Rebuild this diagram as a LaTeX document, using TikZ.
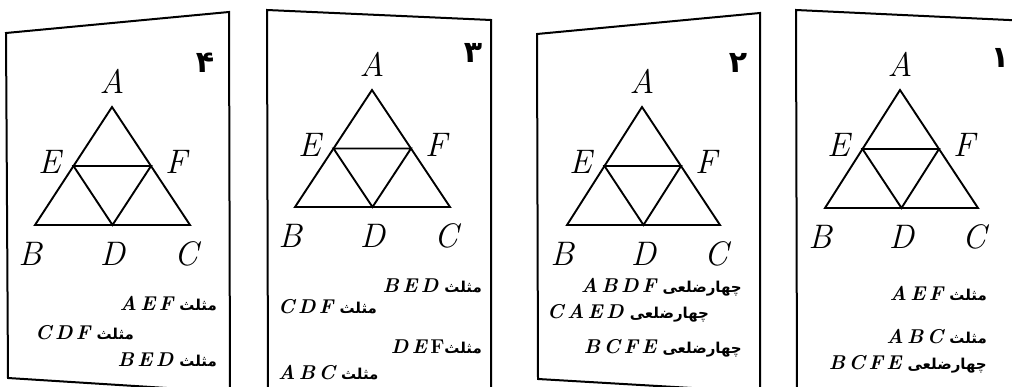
\documentclass[tikz,border=0pt]{standalone}
\usepackage{fontspec}
\usetikzlibrary{calc}
\TeXXeTstate=1
\newfontfamily\arabicfont[Script=Arabic]{DejaVu Sans}
\tikzset{
  card/.style={draw, line width=2pt, line join=miter},
  edge/.style={line width=1.9pt, line join=miter},
  vlab/.style={font=\fontsize{34}{34}\selectfont\itshape, inner sep=0pt},
  num/.style={font=\arabicfont\bfseries\fontsize{30}{30}\selectfont, inner sep=0pt},
  iteme/.style={font=\fontsize{20}{20}\selectfont, inner sep=0pt, anchor=base east},
  itemw/.style={font=\fontsize{20}{20}\selectfont, inner sep=0pt, anchor=base west},
}
\newcommand{\lt}[1]{{\bfseries\itshape #1}}
\newcommand{\mth}{{\arabicfont\bfseries\fontsize{15}{15}\selectfont\beginR مثلث\endR}}
\newcommand{\chz}{{\arabicfont\bfseries\fontsize{15}{15}\selectfont\beginR چهارضلعی\endR}}
% #1 suffix, #2 #3 A, #4 #5 B, #6 #7 C
\newcommand{\drawtri}[7]{%
  \coordinate (A#1) at (#2,#3);
  \coordinate (B#1) at (#4,#5);
  \coordinate (C#1) at (#6,#7);
  \coordinate (E#1) at ($(A#1)!0.5!(B#1)$);
  \coordinate (F#1) at ($(A#1)!0.5!(C#1)$);
  \coordinate (D#1) at ($(B#1)!0.5!(C#1)$);
  \draw[edge] (A#1) -- (B#1) -- (C#1) -- cycle;
  \draw[edge] (E#1) -- (F#1) -- (D#1) -- cycle;
  \node[vlab] (lA#1) at ($(A#1)+(0,-26)$) {A};
  \node[vlab] (lE#1) at ($(E#1)+(-24,-4)$) {E};
  \node[vlab] (lF#1) at ($(F#1)+(25,-4)$) {F};
  \node[vlab] (lB#1) at ($(B#1)+(-5,29)$) {B};
  \node[vlab] (lD#1) at ($(D#1)+(0,29)$) {D};
  \node[vlab] (lC#1) at ($(C#1)+(-4,29)$) {C};
}
\begin{document}
\begin{tikzpicture}[x=1pt,y=-1pt]
\useasboundingbox (0,0) rectangle (1012,387);
\clip (0,0) rectangle (1012,387);
% cards
\draw[card] (6,33) -- (229,12) -- (230,392) -- (8,378) -- cycle;
\draw[card] (267,10) -- (491,20) -- (491,392) -- (268,392) -- cycle;
\draw[card] (537,34) -- (760,13) -- (760,392) -- (538,379) -- cycle;
\draw[card] (796,10) -- (1030,21) -- (1030,392) -- (797,392) -- cycle;
% triangles
\drawtri{4}{112}{107}{35}{225}{190}{225}
\drawtri{3}{372}{90}{295}{207}{450}{207}
\drawtri{2}{642}{107}{567}{225}{720}{225}
\drawtri{1}{900}{90}{825}{208}{978}{208}
% numbers
\node[num] (n4) at (205,63) {۴};
\node[num] (n3) at (473,53) {۳};
\node[num] (n2) at (738,63) {۲};
\node[num] (n1) at (1000,58) {۱};
% card 4 texts
\node[iteme] (t41) at (217,311) {\lt{A\,E\,F} \mth};
\node[itemw] (t42) at (35,339) {\lt{C\,D\,F} \mth};
\node[iteme] (t43) at (217,366) {\lt{B\,E\,D} \mth};
% card 3 texts
\node[iteme] (t31) at (482,293) {\lt{B\,E\,D} \mth};
\node[itemw] (t32) at (278,314) {\lt{C\,D\,F} \mth};
\node[iteme] (t33) at (482,353) {\lt{D\,E}\,\textbf{F}\mth};
\node[itemw] (t34) at (278,379) {\lt{A\,B\,C} \mth};
% card 2 texts
\node[iteme] (t21) at (742,293) {\lt{A\,B\,D\,F} \chz};
\node[itemw] (t22) at (547,319) {\lt{C\,A\,E\,D} \chz};
\node[iteme] (t23) at (742,353) {\lt{B\,C\,F\,E} \chz};
% card 1 texts
\node[iteme] (t11) at (987,301) {\lt{A\,E\,F} \mth};
\node[iteme] (t12) at (987,344) {\lt{A\,B\,C} \mth};
\node[iteme] (t13) at (987,369) {\lt{B\,C\,F\,E} \chz};
\end{tikzpicture}
\end{document}
